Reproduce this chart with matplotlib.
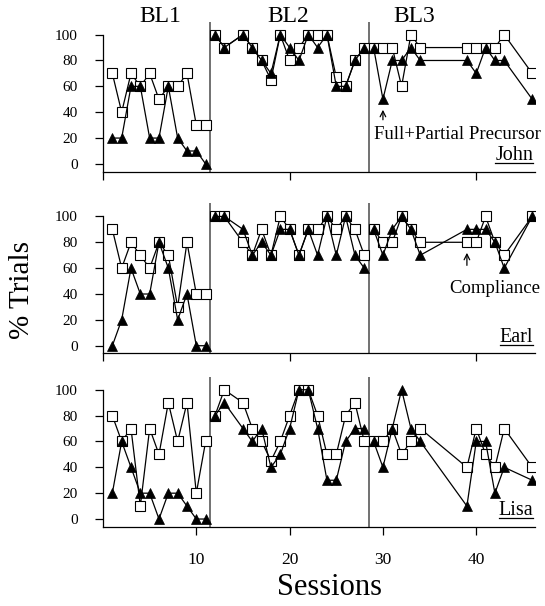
import matplotlib
matplotlib.use("Agg")
import matplotlib.pyplot as plt
from matplotlib.lines import Line2D

plt.rcParams['font.family'] = ['Liberation Serif', 'DejaVu Serif']

# Session numbers belonging to each baseline phase
bl1_sessions = [1, 2, 3, 4, 5, 6, 7, 8, 9, 10, 11]
bl2_sessions = [12, 13, 15, 16, 17, 18, 19, 20, 21, 22, 23, 24, 25, 26, 27, 28]
bl3_sessions = [29, 30, 31, 32, 33, 34, 39, 40, 41, 42, 43, 46]

phase_labels = ["BL1", "BL2", "BL3"]
phase_breaks = [11.5, 28.5]

# John: filled triangles (precursor) and open squares (compliance)
john_tri_bl1 = [20, 20, 60, 60, 20, 20, 60, 20, 10, 10, 0]
john_sq_bl1 = [70, 40, 70, 60, 70, 50, 60, 60, 70, 30, 30]
john_tri_bl2 = [100, 90, 100, 90, 80, 70, 100, 90, 80, 100, 90, 100, 60, 60, 80, 90]
john_sq_bl2 = [100, 90, 100, 90, 80, 65, 100, 80, 90, 100, 100, 100, 67, 60, 80, 90]
john_tri_bl3 = [90, 50, 80, 80, 90, 80, 80, 70, 90, 80, 80, 50]
john_sq_bl3 = [90, 90, 90, 60, 100, 90, 90, 90, 90, 90, 100, 70]

# Earl
earl_tri_bl1 = [0, 20, 60, 40, 40, 80, 60, 20, 40, 0, 0]
earl_sq_bl1 = [90, 60, 80, 70, 60, 80, 70, 30, 80, 40, 40]
earl_tri_bl2 = [100, 100, 90, 70, 80, 70, 90, 90, 70, 90, 70, 100, 70, 100, 70, 60]
earl_sq_bl2 = [100, 100, 80, 70, 90, 70, 100, 90, 70, 90, 90, 100, 90, 100, 90, 70]
earl_tri_bl3 = [90, 70, 90, 100, 90, 70, 90, 90, 90, 80, 60, 100]
earl_sq_bl3 = [90, 80, 80, 100, 90, 80, 80, 80, 100, 80, 70, 100]

# Lisa
lisa_tri_bl1 = [20, 60, 40, 20, 20, 0, 20, 20, 10, 0, 0]
lisa_sq_bl1 = [80, 60, 70, 10, 70, 50, 90, 60, 90, 20, 60]
lisa_tri_bl2 = [80, 90, 70, 60, 70, 40, 50, 70, 100, 100, 70, 30, 30, 60, 70, 70]
lisa_sq_bl2 = [80, 100, 90, 70, 60, 45, 60, 80, 100, 100, 80, 50, 50, 80, 90, 60]
lisa_tri_bl3 = [60, 40, 70, 100, 70, 60, 10, 60, 60, 20, 40, 30]
lisa_sq_bl3 = [60, 60, 70, 50, 60, 70, 40, 70, 50, 40, 70, 40]

participants = ["John", "Earl", "Lisa"]
tri_data = {
    "John": [john_tri_bl1, john_tri_bl2, john_tri_bl3],
    "Earl": [earl_tri_bl1, earl_tri_bl2, earl_tri_bl3],
    "Lisa": [lisa_tri_bl1, lisa_tri_bl2, lisa_tri_bl3],
}
sq_data = {
    "John": [john_sq_bl1, john_sq_bl2, john_sq_bl3],
    "Earl": [earl_sq_bl1, earl_sq_bl2, earl_sq_bl3],
    "Lisa": [lisa_sq_bl1, lisa_sq_bl2, lisa_sq_bl3],
}
phase_sessions = [bl1_sessions, bl2_sessions, bl3_sessions]

fig = plt.figure(figsize=(5.45, 6.06), dpi=100)

left, width, height = 0.189, 0.7927, 0.2475
bottoms = [0.7167, 0.4167, 0.1307]
axes = []
name_texts = []

for i, name in enumerate(participants):
    ax = fig.add_axes([left, bottoms[i], width, height])
    axes.append(ax)
    ax.set_xlim(0, 46.3)
    ax.set_ylim(-6, 110)

    for xb in phase_breaks:
        ax.axvline(xb, color='0.35', lw=1.2, zorder=1)

    for sess, sq, tri in zip(phase_sessions, sq_data[name], tri_data[name]):
        ax.plot(sess, sq, color='black', lw=0.9, marker='s', ms=6.6,
                mfc='white', mec='black', mew=0.8, zorder=3)
        ax.plot(sess, tri, color='black', lw=0.9, marker='^', ms=7.6,
                mfc='black', mec='black', mew=0.5, zorder=4)

    ax.spines['top'].set_visible(False)
    ax.spines['right'].set_visible(False)
    ax.spines['left'].set_bounds(-6, 100)
    ax.spines['left'].set_linewidth(0.9)
    ax.spines['bottom'].set_linewidth(0.9)
    ax.set_yticks([0, 20, 40, 60, 80, 100])
    ax.tick_params(axis='y', direction='out', length=6, width=0.9,
                   labelsize=11, pad=12)
    if i < 2:
        ax.set_xticks([0, 20, 40])
        ax.tick_params(axis='x', direction='out', length=6, width=0.9,
                       labelbottom=False)
    else:
        ax.set_xticks([10, 20, 30, 40])
        ax.tick_params(axis='x', direction='out', length=6, width=0.9,
                       labelsize=12.5, pad=12)

    # participant name, right-aligned in the lower corner
    t = ax.text(46.1, -1.0, name, ha='right', va='bottom', fontsize=14.5)
    name_texts.append(t)

# phase titles above the top panel
title_x = [6.1, 19.9, 33.4]
for lbl, xp in zip(phase_labels, title_x):
    axes[0].text(xp, 114, lbl, ha='center', va='center', fontsize=17,
                 clip_on=False)

# annotations
axes[0].annotate('', xy=(30, 44), xytext=(30, 32),
                 arrowprops=dict(arrowstyle='->', lw=0.9, color='black',
                                 mutation_scale=10))
axes[0].text(29.0, 22.5, 'Full+Partial Precursor', ha='left', va='center',
             fontsize=13.5, clip_on=False)
axes[1].annotate('', xy=(39, 74), xytext=(39, 60),
                 arrowprops=dict(arrowstyle='->', lw=0.9, color='black',
                                 mutation_scale=10))
axes[1].text(37.1, 44, 'Compliance', ha='left', va='center', fontsize=13.5,
             clip_on=False)

fig.text(0.040, 0.521, '% Trials', rotation=90, ha='center', va='center',
         fontsize=21)
fig.text(0.605, 0.030, 'Sessions', ha='center', va='center', fontsize=22)

# underline the participant names
fig.canvas.draw()
renderer = fig.canvas.get_renderer()
inv = fig.transFigure.inverted()
for t in name_texts:
    bb = t.get_window_extent(renderer)
    yline = bb.y0 + 2.5
    (x0, y0), (x1, _) = inv.transform([(bb.x0, yline), (bb.x1, yline)])
    fig.add_artist(Line2D([x0, x1], [y0, y0], transform=fig.transFigure,
                          color='black', lw=0.9))

fig.savefig('out.png', dpi=100)
